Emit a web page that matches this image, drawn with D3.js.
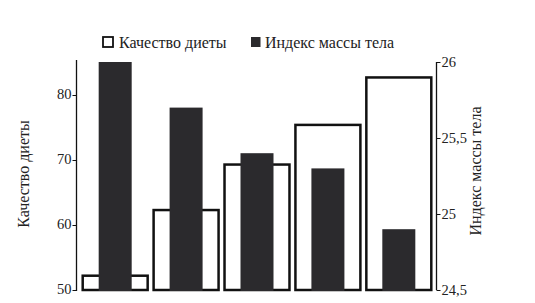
<!DOCTYPE html>
<html><head><meta charset="utf-8">
<script src="https://cdn.jsdelivr.net/npm/d3@7"></script>
<style>body{margin:0;background:#fff}svg{display:block}</style>
</head><body><svg id="c" width="535" height="303"></svg>
<script>
const categories = ["1","2","3","4","5"];
const dietQuality = [52.2, 62.3, 69.3, 75.4, 82.7];
const bmi = [26.0, 25.7, 25.4, 25.3, 24.9];
const leftTicks = [50, 60, 70, 80];
const rightTicks = [24.5, 25, 25.5, 26];
const leftTitle = "Качество диеты";
const rightTitle = "Индекс массы тела";
const seriesNames = ["Качество диеты", "Индекс массы тела"];

const FONT = '"Liberation Serif", "Tinos", "Times New Roman", serif';
const svg = d3.select("#c");
const dark = "#2b2a2d";
const x = d3.scaleBand().domain(categories).range([81.5, 432.5]).paddingInner(0.05).paddingOuter(0);
const yL = d3.scaleLinear().domain([50, 85]).range([290, 62.5]);
const yR = d3.scaleLinear().domain([24.5, 26]).range([290, 62]);

// outline bars
svg.append("g").selectAll("rect").data(dietQuality).join("rect")
  .attr("x", (d,i)=>x(categories[i]) + 1.2)
  .attr("width", x.bandwidth() - 2.4)
  .attr("y", d=>yL(d))
  .attr("height", d=>yL(50) - yL(d))
  .attr("fill", "#fff").attr("stroke", "#111").attr("stroke-width", 2.5);

// dark bars
const dw = 33;
svg.append("g").selectAll("rect").data(bmi).join("rect")
  .attr("x", (d,i)=>x(categories[i]) + x.bandwidth()/2 - dw/2)
  .attr("width", dw)
  .attr("y", d=>yR(d))
  .attr("height", d=>yR(24.5) - yR(d) + 1)
  .attr("fill", dark);

// left axis
const gL = svg.append("g").attr("transform","translate(76.5,0)")
  .call(d3.axisLeft(yL).tickValues(leftTicks).tickSize(4).tickPadding(1).tickSizeOuter(0));
gL.select(".domain").attr("d","M0,60V291").attr("stroke","#111").attr("stroke-width",1.3);
gL.selectAll(".tick line").attr("stroke","#111");
gL.selectAll(".tick text").style("font-size","14.5px").style("font-family",FONT)
  .attr("fill","#222").attr("dy","0.25em");

// right axis
const gR = svg.append("g").attr("transform","translate(436.5,0)")
  .call(d3.axisRight(yR).tickValues(rightTicks).tickSize(4).tickPadding(1).tickSizeOuter(0)
  .tickFormat(d=>String(d).replace(".", ",")));
gR.select(".domain").attr("d","M0,62V290").attr("stroke","#111").attr("stroke-width",1.3);
gR.selectAll(".tick line").attr("stroke","#111");
gR.selectAll(".tick text").style("font-size","14.5px").style("font-family",FONT)
  .attr("fill","#222").attr("dy","0.3em");

// axis titles
svg.append("text").attr("transform","translate(29,174) rotate(-90)")
  .attr("text-anchor","middle").style("font-size","16px").style("font-family",FONT)
  .attr("fill","#222").text(leftTitle);
svg.append("text").attr("transform","translate(481,171) rotate(-90)")
  .attr("text-anchor","middle").style("font-size","16px").style("font-family",FONT)
  .attr("fill","#222").text(rightTitle);

// legend
svg.append("rect").attr("x",103).attr("y",37).attr("width",10).attr("height",10)
  .attr("fill","#fff").attr("stroke","#111").attr("stroke-width",1.8);
svg.append("text").attr("x",119).attr("y",47.5).style("font-size","16px").style("font-family",FONT)
  .attr("fill","#222").text(seriesNames[0]);
svg.append("rect").attr("x",251).attr("y",37).attr("width",9.5).attr("height",10).attr("fill",dark);
svg.append("text").attr("x",265).attr("y",47.5).style("font-size","16px").style("font-family",FONT)
  .attr("fill","#222").text(seriesNames[1]);
</script></body></html>
